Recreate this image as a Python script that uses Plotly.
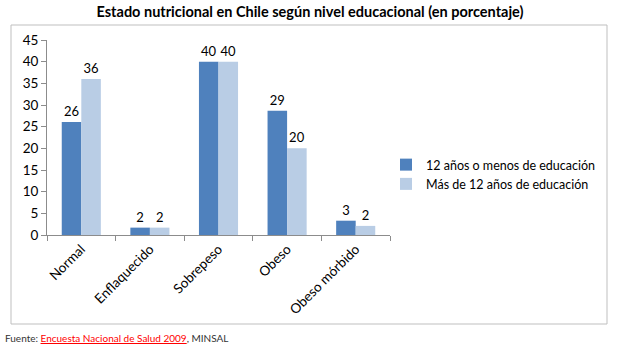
import plotly.graph_objects as go

categories = ["Normal", "Enflaquecido", "Sobrepeso", "Obeso", "Obeso mórbido"]
serie_menos12 = [26.1, 1.7, 40.0, 28.7, 3.3]
serie_mas12 = [36.0, 1.7, 40.0, 20.0, 2.1]
series_names = ["12 años o menos de educación", "Más de 12 años de educación"]
y_ticks = [0, 5, 10, 15, 20, 25, 30, 35, 40, 45]

FONT = "Lato"
W, H = 620, 351
L, R, T, B = 47, 230, 40, 116
pw = W - L - R
ph = H - T - B

def px_x(x):
    return (x - L) / pw

def px_y(y):
    return (H - B - y) / ph

fig = go.Figure()
for name, vals, col in [(series_names[0], serie_menos12, "#4f81bd"),
                        (series_names[1], serie_mas12, "#b9cde5")]:
    fig.add_trace(go.Bar(
        x=categories, y=vals, name=name, marker=dict(color=col, line=dict(width=0)),
        text=vals, texttemplate="%{y:.0f}", textposition="outside",
        textfont=dict(family=FONT, size=13, color="#000"), cliponaxis=False,
    ))

fig.update_layout(
    width=W, height=H,
    margin=dict(l=L, r=R, t=T, b=B),
    paper_bgcolor="white", plot_bgcolor="white",
    barmode="group", bargap=0.43, bargroupgap=0,
    font=dict(family=FONT, size=13, color="#000"),
    showlegend=True,
    legend=dict(x=px_x(386), y=px_y(150), xanchor="left", yanchor="top",
                font=dict(family=FONT, size=12.5, color="#000"),
                bgcolor="rgba(0,0,0,0)", tracegroupgap=0, itemwidth=30),
    xaxis=dict(showline=True, linecolor="#8c8c8c", linewidth=1,
               ticks="outside", tickson="boundaries", ticklen=5, tickcolor="#8c8c8c",
               tickangle=-45, tickfont=dict(family=FONT, size=13.5, color="#000"),
               showgrid=False, fixedrange=True),
    yaxis=dict(range=[0, 45], tickvals=y_ticks, showline=True, linecolor="#8c8c8c",
               linewidth=1, ticks="outside", ticklen=5, tickcolor="#8c8c8c",
               tickfont=dict(family=FONT, size=13.5, color="#000"),
               showgrid=False, zeroline=False, fixedrange=True),
    title=dict(text="<b>Estado nutricional en Chile según nivel educacional (en porcentaje)</b>",
               xref="paper", x=(W / 2 - L) / pw, y=1 - 12 / H, yanchor="middle", xanchor="center",
               font=dict(family=FONT, size=14.5, color="#000")),
)

fig.add_shape(type="rect", xref="paper", yref="paper",
              x0=px_x(11), x1=px_x(607), y0=px_y(324), y1=px_y(25),
              line=dict(color="#bfbfbf", width=1), fillcolor="rgba(0,0,0,0)", layer="below")

fig.add_annotation(xref="paper", yref="paper", x=px_x(3), y=px_y(338),
                   xanchor="left", yanchor="middle", showarrow=False,
                   text="Fuente: <span style='color:#ff0000;text-decoration:underline'>Encuesta Nacional de Salud 2009</span>, MINSAL",
                   font=dict(family=FONT, size=10, color="#333"))

fig.write_html("out.html")
